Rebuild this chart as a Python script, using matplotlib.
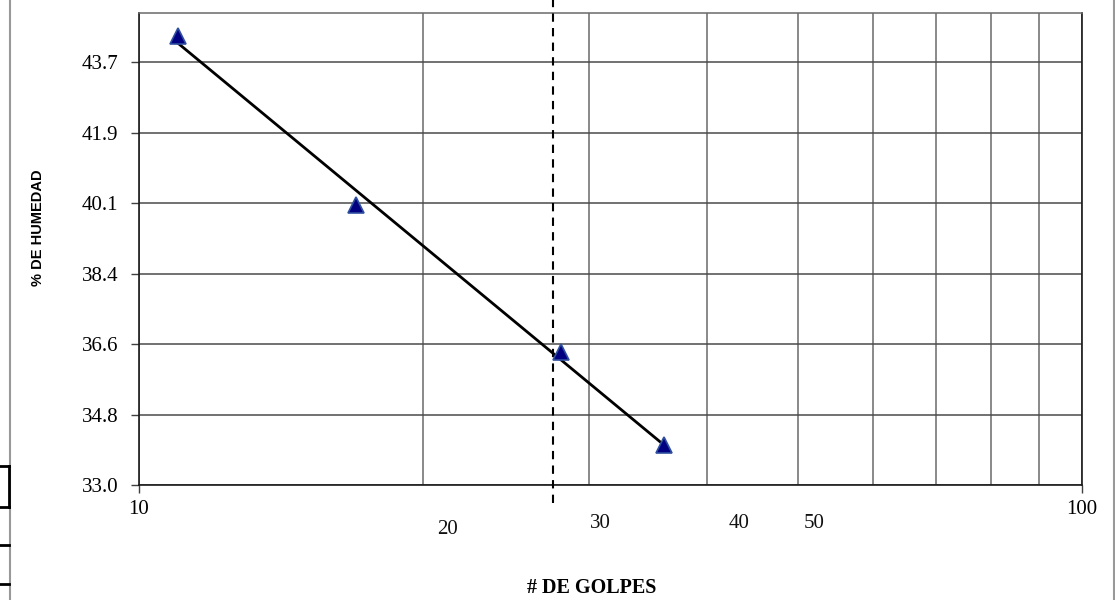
import numpy as np
import matplotlib
matplotlib.use("Agg")
import matplotlib.pyplot as plt
from matplotlib.lines import Line2D

# datos del ensayo (limite liquido)
golpes = [11, 17, 28, 36]
humedad = [44.38, 40.08, 36.36, 34.01]
golpes_ref = 27.5

y_ticks = [33.0, 34.783, 36.567, 38.35, 40.133, 41.917, 43.7]
y_labels = ["33.0", "34.8", "36.6", "38.4", "40.1", "41.9", "43.7"]
x_ticks = [10, 100]
x_labels = ["10", "100"]
# etiquetas sueltas como en la hoja original (valor, pos x, pos y en fraccion de ejes)
extra_labels = [("20", 0.3266, -0.094), ("30", 0.4889, -0.081),
                ("40", 0.6363, -0.081), ("50", 0.7158, -0.081)]

fig = plt.figure(figsize=(11.15, 6), dpi=100)
ax = fig.add_axes([0.1247, 0.1917, 0.8457, 0.7866])

ax.set_xscale("log")
ax.set_xlim(10, 100)
ax.set_ylim(33.0, 44.95)

# cuadricula
ax.set_xticks(x_ticks)
ax.set_xticklabels(x_labels, fontsize=15, family="Liberation Serif")
ax.set_xticks(np.arange(20, 100, 10), minor=True)
ax.set_xticklabels([], minor=True)
ax.set_yticks(y_ticks)
ax.set_yticklabels(y_labels, fontsize=15, family="Liberation Serif")
ax.tick_params(axis="y", direction="out", length=6, width=1, pad=9, color="#404040")
ax.tick_params(axis="x", which="major", direction="out", length=6, width=1, pad=5, color="#404040")
ax.tick_params(axis="x", which="minor", length=0)
ax.grid(True, which="both", axis="x", color="#6a6a6a", lw=1.1)
ax.grid(True, which="major", axis="y", color="#4a4a4a", lw=1.1)
ax.set_axisbelow(True)

for s in ["left", "bottom", "right"]:
    ax.spines[s].set_color("#1a1a1a")
    ax.spines[s].set_linewidth(1.2)
ax.spines["top"].set_color("#6a6a6a")
ax.spines["top"].set_linewidth(1.1)

for txt, xf, yf in extra_labels:
    ax.text(xf, yf, txt, transform=ax.transAxes, ha="center", va="center",
            fontsize=15, family="Liberation Serif", color="#111111")

# linea de tendencia (ajuste lineal sobre log x)
lx = np.log10(golpes)
m, b = np.polyfit(lx, humedad, 1)
xt = np.array([min(golpes), max(golpes)])
ax.plot(xt, m * np.log10(xt) + b, color="black", lw=2.0, zorder=3)

ax.plot(golpes, humedad, linestyle="none", marker="^", markersize=11.5,
        markerfacecolor="#000080", markeredgecolor="#2F4F9F", markeredgewidth=1.2, zorder=4)

ax.axvline(golpes_ref, ymin=-0.038, ymax=1.04, color="black", lw=1.5,
           linestyle=(0, (4, 3)), clip_on=False, zorder=3)

fig.text(38 / 1115, 1 - 228 / 600, "% DE HUMEDAD", rotation=90, ha="center", va="center",
         fontsize=10.5, fontweight="bold", family="Liberation Sans")
fig.text(592 / 1115, 1 - 588 / 600, "# DE GOLPES", ha="center", va="center",
         fontsize=14.5, fontweight="bold", family="Liberation Serif")

# restos de la hoja de calculo en los bordes
def fline(x0, y0, x1, y1, color, lw):
    fig.add_artist(Line2D([x0 / 1115, x1 / 1115], [1 - y0 / 600, 1 - y1 / 600],
                          transform=fig.transFigure, color=color, lw=lw))

fline(10, 0, 10, 600, "#999999", 1.5)
fline(1114, 0, 1114, 600, "#999999", 1.5)
fline(0, 466, 9, 466, "black", 2)
fline(9, 466, 9, 507, "black", 2)
fline(0, 507, 9, 507, "black", 2)
fline(0, 545, 9, 545, "black", 2)
fline(0, 584, 9, 584, "black", 2)

fig.savefig("out.png", dpi=100)
